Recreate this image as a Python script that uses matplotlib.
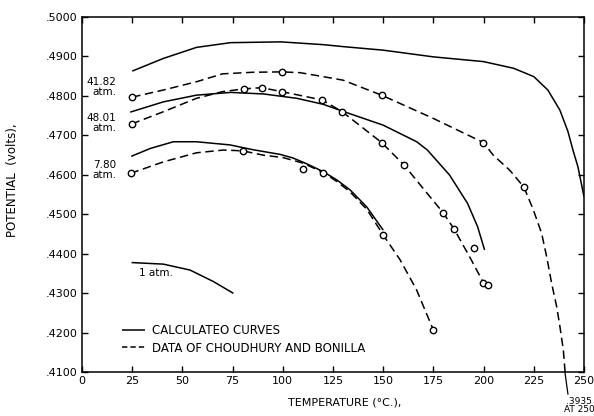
import matplotlib
matplotlib.use("Agg")
import matplotlib.pyplot as plt
from matplotlib.lines import Line2D

plt.rcParams['font.family'] = ['DejaVu Sans']

# ---- data (Temperature °C, Potential V) ----
calc_4182_T = [25, 40.5, 57, 74, 99, 120, 130, 150, 175, 200, 215, 225, 232, 238, 242, 244.5, 247, 250]
calc_4182_V = [.4863, .4895, .4923, .4935, .4937, .4930, .4925, .4916, .4899, .4887, .4870, .4849, .4815, .4764, .4710, .4663, .4620, .4545]

data_4182_T = [25, 40.5, 57, 70, 85, 99.4, 108.6, 120, 130, 149.2, 175, 199.9, 204.8, 213, 220.1, 224.8, 228.9, 231.4, 233.9, 236.4, 238, 239.7, 240.5, 242]
data_4182_V = [.4797, .4815, .4836, .4856, .4860, .4861, .4859, .4849, .4840, .4802, .4743, .4682, .4650, .4612, .4569, .4511, .4452, .4393, .4325, .4266, .4216, .4157, .4106, .4040]
pts_4182_T = [25, 99.4, 149.2, 199.9, 220.1]
pts_4182_V = [.4797, .4861, .4802, .4682, .4569]

calc_4801_T = [24, 40.5, 57, 74, 90.5, 107, 120, 130, 150, 166.7, 172, 183, 192, 197, 200.5]
calc_4801_V = [.4759, .4785, .4802, .4809, .4805, .4794, .4779, .4761, .4726, .4684, .4663, .4600, .4528, .4469, .4410]

data_4801_T = [24.7, 40.5, 57, 70, 80.8, 89.5, 99.4, 119.5, 129.6, 149.2, 160.4, 170, 179.9, 185.4, 193, 199.9, 202.3]
data_4801_V = [.4729, .4760, .4794, .4811, .4818, .4821, .4811, .4790, .4760, .4682, .4625, .4565, .4504, .4462, .4393, .4327, .4321]
pts_4801_T = [24.7, 80.8, 89.5, 99.4, 119.5, 129.6, 149.2, 160.4, 179.9, 185.4, 195.2, 199.9, 202.3]
pts_4801_V = [.4729, .4818, .4821, .4811, .4790, .4760, .4682, .4625, .4504, .4462, .4414, .4327, .4321]

calc_780_T = [24.5, 34, 45.5, 57, 73.7, 85, 98.6, 105, 112, 120.2, 127, 133.5, 141.8, 150]
calc_780_V = [.4647, .4667, .4684, .4684, .4676, .4664, .4652, .4643, .4628, .4608, .4587, .4562, .4519, .4460]

data_780_T = [24.2, 40.5, 57, 70.4, 80, 90.3, 100, 110, 120.2, 127, 133.5, 141.8, 150, 158.4, 166.6, 175]
data_780_V = [.4604, .4633, .4656, .4663, .4661, .4650, .4644, .4630, .4606, .4583, .4557, .4513, .4448, .4385, .4309, .4207]
pts_780_T = [24.2, 80, 110.2, 120.2, 150, 175]
pts_780_V = [.4604, .4661, .4614, .4606, .4448, .4207]

calc_1_T = [24.7, 40.5, 53.8, 65.4, 75.4]
calc_1_V = [.4378, .4374, .4359, .4330, .4300]

note_T = [240.5, 242]
note_V = [.4100, .4045]

x_ticks = [0, 25, 50, 75, 100, 125, 150, 175, 200, 225, 250]
y_ticks = [.4100, .4200, .4300, .4400, .4500, .4600, .4700, .4800, .4900, .5000]
y_ticklabels = ['.4100', '.4200', '.4300', '.4400', '.4500', '.4600', '.4700', '.4800', '.4900', '.5000']

# ---- figure ----
fig = plt.figure(figsize=(5.94, 4.16), dpi=100)
ax = fig.add_axes([82/594, 1-372.3/416, (584-82)/594, (372.3-17)/416])

LW = 1.1
DASH = (0, (5.5, 3))
solid_kw = dict(color='black', lw=LW, solid_capstyle='butt', solid_joinstyle='round')
dash_kw = dict(color='black', lw=LW, linestyle=DASH)
mk_kw = dict(linestyle='none', marker='o', markersize=4.6, markerfacecolor='white',
             markeredgecolor='black', markeredgewidth=1.0, zorder=5)

ax.plot(calc_4182_T, calc_4182_V, **solid_kw)
ax.plot(data_4182_T, data_4182_V, **dash_kw)
ax.plot(pts_4182_T, pts_4182_V, **mk_kw)

ax.plot(calc_4801_T, calc_4801_V, **solid_kw)
ax.plot(data_4801_T, data_4801_V, **dash_kw)
ax.plot(pts_4801_T, pts_4801_V, **mk_kw)

ax.plot(calc_780_T, calc_780_V, **solid_kw)
ax.plot(data_780_T, data_780_V, **dash_kw)
ax.plot(pts_780_T, pts_780_V, **mk_kw)

ax.plot(calc_1_T, calc_1_V, **solid_kw)

ax.plot(note_T, note_V, color='black', lw=0.9, clip_on=False)

ax.set_xlim(0, 250)
ax.set_ylim(.4100, .5000)
ax.set_xticks(x_ticks)
ax.set_xticklabels([str(t) for t in x_ticks])
ax.set_yticks(y_ticks)
ax.set_yticklabels(y_ticklabels)
ax.tick_params(direction='in', length=4.5, width=1.0, labelsize=8, pad=3,
               top=True, right=True, colors='black')
for s in ax.spines.values():
    s.set_linewidth(1.1)

ax.set_ylabel('POTENTIAL  (volts),', fontsize=8.5)
ax.yaxis.set_label_coords(-0.1255, 0.541)
ax.set_xlabel('TEMPERATURE (°C.),', fontsize=8)
ax.xaxis.set_label_coords(0.524, -0.072)

# curve labels
lab_kw = dict(fontsize=7.5, ha='right', va='center', multialignment='right', linespacing=1.0)
ax.text(16.9, .4823, '41.82\natm.', **lab_kw)
ax.text(16.9, .4732, '48.01\natm.', **lab_kw)
ax.text(16.9, .4612, '7.80\natm.', **lab_kw)
ax.text(36.9, .4352, '1 atm.', fontsize=7.5, ha='center', va='center')

# legend
handles = [Line2D([], [], **solid_kw), Line2D([], [], color='black', lw=LW, linestyle=(0, (3.5, 2)))]
ax.legend(handles, ['CALCULATEO CURVES', 'DATA OF CHOUDHURY AND BONILLA'],
          loc='lower left', bbox_to_anchor=(0.079, 0.050), frameon=False,
          fontsize=8.5, handlelength=2.0, handletextpad=0.55, labelspacing=0.35,
          borderpad=0, borderaxespad=0)

fig.text(579/594, 1-401/416, '.3935', fontsize=6.5, ha='center', va='center')
fig.text(579/594, 1-410/416, 'AT 250', fontsize=6.5, ha='center', va='center')

fig.savefig('out.png', dpi=100)
